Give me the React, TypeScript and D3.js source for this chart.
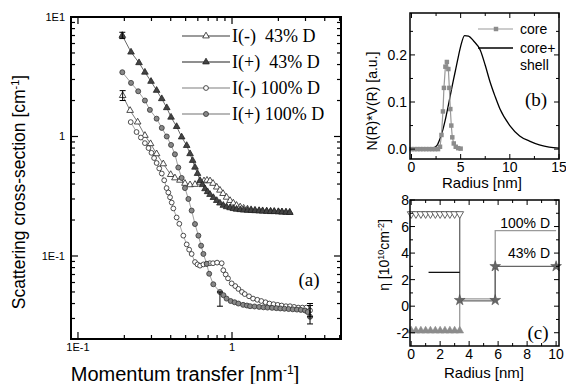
import React from 'react';
import * as d3 from 'd3';

// ---------- panel (a): scattering curves, q [nm^-1] vs I [cm^-1]
const qMinus43 = [0.195, 0.218, 0.244, 0.272, 0.296, 0.324, 0.358, 0.400, 0.426, 0.459, 0.495, 0.534, 0.575, 0.620, 0.658, 0.688, 0.720, 0.753, 0.796, 0.835, 0.875, 0.922, 0.971, 1.02, 1.07, 1.13, 1.19, 1.26, 1.33, 1.41, 1.50, 1.58, 1.68, 1.78, 1.88, 2.0, 2.11, 2.24, 2.37];
const iMinus43 = [2.2, 1.65, 1.32, 1.02, 0.87, 0.716, 0.59, 0.48, 0.45, 0.43, 0.405, 0.394, 0.397, 0.414, 0.425, 0.43, 0.425, 0.405, 0.377, 0.355, 0.333, 0.31, 0.291, 0.277, 0.265, 0.257, 0.251, 0.247, 0.244, 0.242, 0.240, 0.239, 0.238, 0.237, 0.236, 0.235, 0.234, 0.233, 0.232];

const qPlus43 = [0.194, 0.221, 0.249, 0.272, 0.298, 0.324, 0.350, 0.377, 0.402, 0.437, 0.471, 0.508, 0.534, 0.555, 0.575, 0.597, 0.620, 0.643, 0.668, 0.694, 0.720, 0.757, 0.796, 0.835, 0.878, 0.922, 0.971, 1.02, 1.07, 1.13, 1.19, 1.26, 1.33, 1.41, 1.50, 1.58, 1.68, 1.78, 1.88, 2.0, 2.11, 2.24, 2.37];
const iPlus43 = [7.0, 5.08, 4.14, 3.45, 2.89, 2.43, 2.07, 1.74, 1.45, 1.21, 0.99, 0.84, 0.717, 0.63, 0.553, 0.49, 0.428, 0.395, 0.365, 0.345, 0.327, 0.308, 0.291, 0.277, 0.265, 0.258, 0.253, 0.249, 0.246, 0.244, 0.242, 0.241, 0.240, 0.239, 0.238, 0.237, 0.236, 0.235, 0.235, 0.234, 0.233, 0.232, 0.231];

const qMinus100 = [0.220, 0.240, 0.256, 0.272, 0.287, 0.300, 0.312, 0.324, 0.337, 0.350, 0.363, 0.376, 0.386, 0.396, 0.406, 0.416, 0.437, 0.455, 0.483, 0.508, 0.527, 0.547, 0.575, 0.597, 0.620, 0.652, 0.685, 0.718, 0.753, 0.800, 0.857, 0.878, 0.910, 0.942, 0.995, 1.05, 1.10, 1.16, 1.21, 1.29, 1.37, 1.46, 1.55, 1.65, 1.75, 1.86, 1.98, 2.10, 2.24, 2.38, 2.53, 2.69, 2.86, 3.04, 3.21];
const iMinus100 = [1.32, 1.09, 0.98, 0.88, 0.80, 0.73, 0.66, 0.60, 0.54, 0.49, 0.43, 0.37, 0.34, 0.31, 0.28, 0.25, 0.21, 0.186, 0.148, 0.125, 0.113, 0.104, 0.089, 0.085, 0.083, 0.085, 0.086, 0.087, 0.087, 0.088, 0.087, 0.076, 0.070, 0.065, 0.059, 0.056, 0.053, 0.050, 0.048, 0.046, 0.044, 0.043, 0.042, 0.041, 0.040, 0.0395, 0.039, 0.0385, 0.038, 0.038, 0.0375, 0.037, 0.037, 0.037, 0.035];

const qPlus100 = [0.194, 0.221, 0.246, 0.272, 0.293, 0.324, 0.350, 0.377, 0.402, 0.426, 0.448, 0.471, 0.495, 0.521, 0.547, 0.575, 0.605, 0.630, 0.652, 0.685, 0.711, 0.756, 0.835, 0.880, 0.922, 0.980, 1.04, 1.10, 1.18, 1.25, 1.31, 1.40, 1.50, 1.60, 1.70, 1.82, 1.94, 2.06, 2.19, 2.33, 2.48, 2.64, 2.80, 2.98, 3.10, 3.21];
const iPlus100 = [3.45, 2.81, 2.39, 2.0, 1.67, 1.41, 1.18, 1.0, 0.85, 0.71, 0.55, 0.45, 0.37, 0.30, 0.24, 0.185, 0.148, 0.122, 0.104, 0.086, 0.071, 0.058, 0.050, 0.047, 0.044, 0.042, 0.041, 0.040, 0.039, 0.0385, 0.038, 0.0378, 0.0375, 0.0372, 0.037, 0.0368, 0.0366, 0.0364, 0.0362, 0.036, 0.0358, 0.0356, 0.0354, 0.035, 0.034, 0.031];

const legendLabels = ['I(-)  43% D', 'I(+)  43% D', 'I(-) 100% D', 'I(+) 100% D'];

// [series index, q, low, high]
const errorBars: [number, number, number, number][] = [
  [1, 0.194, 6.6, 7.45],
  [0, 0.195, 2.0, 2.42],
  [3, 0.835, 0.038, 0.05],
  [3, 3.21, 0.027, 0.0385],
  [2, 3.21, 0.031, 0.04],
];

// ---------- panel (b): size distributions
const coreR = [0, 0.3, 0.6, 0.9, 1.2, 1.5, 1.8, 2.1, 2.4, 2.7, 2.9, 3.05, 3.2, 3.3, 3.45, 3.6, 3.75, 3.85, 3.95, 4.05, 4.15, 4.3, 4.5, 4.75, 5.0];
const coreV = [0, 0, 0, 0, 0, 0, 0, 0, 0, 0, 0.005, 0.03, 0.08, 0.13, 0.175, 0.185, 0.17, 0.13, 0.085, 0.05, 0.025, 0.012, 0.005, 0.002, 0.001];
const shellR = [0, 1, 1.8, 2.2, 2.6, 2.9, 3.2, 3.5, 3.8, 4.1, 4.4, 4.7, 5.0, 5.4, 5.8, 6.3, 7.0, 7.5, 8.0, 8.5, 9.0, 10, 11, 12, 13, 14, 15];
const shellV = [0, 0, 0, 0.002, 0.008, 0.022, 0.042, 0.068, 0.098, 0.13, 0.16, 0.19, 0.218, 0.241, 0.24, 0.23, 0.21, 0.178, 0.142, 0.112, 0.085, 0.05, 0.028, 0.017, 0.009, 0.004, 0.002];

// ---------- panel (c): contrast profiles
const profR = [0, 3.35, 3.35, 5.8, 5.8, 10];
const prof43 = [6.95, 6.95, 0.4, 0.4, 3.0, 3.0];
const prof100 = [-1.85, -1.85, 0.55, 0.55, 5.7, 5.7];
const coreMarkR = [0, 0.33, 0.67, 1.0, 1.33, 1.67, 2.0, 2.33, 2.67, 3.0, 3.35];
const starR = [3.35, 5.8, 5.8, 10];
const starEta = [0.45, 0.45, 3.0, 3.0];
const avgR = [1.2, 3.35];
const avgEta = [2.55, 2.55];

const SANS = '"Liberation Sans", Arial, sans-serif';
const SERIF = '"Liberation Serif", "Times New Roman", serif';

type Pt = [number, number];
const zip = (a: number[], b: number[]): Pt[] => a.map((v, i) => [v, b[i]]);

const tri = d3.symbol(d3.symbolTriangle, 19)();
const triC = d3.symbol(d3.symbolTriangle, 26)();
const star = d3.symbol(d3.symbolStar, 36)();
const sq = d3.symbol(d3.symbolSquare, 20)();

const Marker = ({ kind, x, y }: { kind: string; x: number; y: number }) => {
  const t = `translate(${x},${y})`;
  if (kind === 'triOpen') return <path d={tri!} transform={t} fill="#fff" stroke="#222" strokeWidth={0.8} />;
  if (kind === 'triFill') return <path d={tri!} transform={t} fill="#444" stroke="#222" strokeWidth={0.8} />;
  if (kind === 'circOpen') return <circle cx={x} cy={y} r={2.4} fill="#fff" stroke="#222" strokeWidth={0.8} />;
  return <circle cx={x} cy={y} r={2.5} fill="#888" stroke="#333" strokeWidth={0.8} />;
};

const series = [
  { pts: zip(qMinus43, iMinus43), kind: 'triOpen', line: '#7a7a7a' },
  { pts: zip(qPlus43, iPlus43), kind: 'triFill', line: '#6a6a6a' },
  { pts: zip(qMinus100, iMinus100), kind: 'circOpen', line: '#a8a8a8' },
  { pts: zip(qPlus100, iPlus100), kind: 'circFill', line: '#a0a0a0' },
];

const PanelA = () => {
  const L = 71, R = 341, T = 17, B = 339;
  const x = d3.scaleLog().domain([0.0901, 5.1]).range([L, R]);
  const y = d3.scaleLog().domain([0.0202, 10]).range([B, T]);
  const line = d3.line<Pt>().x(d => x(d[0])).y(d => y(d[1]));
  const isMajor = (v: number) => Math.abs(Math.log10(v) - Math.round(Math.log10(v))) < 1e-6;
  const xt = x.ticks().filter(v => x(v) > L + 1 && x(v) < R - 1);
  const yt = y.ticks().filter(v => (y(v) > T + 1 && y(v) < B - 1) || v === 10);
  const fmt = (v: number) => (v === 1 ? '1' : v === 10 ? '1E1' : '1E-1');
  return (
    <g>
      {series.map((s, i) => (
        <path key={'l' + i} d={line(s.pts)!} fill="none" stroke={s.line} strokeWidth={1} />
      ))}
      {series.map((s, i) => (
        <g key={'m' + i}>
          {s.pts.map((p, j) => <Marker key={j} kind={s.kind} x={x(p[0])} y={y(p[1])} />)}
        </g>
      ))}
      {errorBars.map(([, q, lo, hi], i) => (
        <g key={'e' + i} stroke="#000" strokeWidth={1}>
          <line x1={x(q)} x2={x(q)} y1={y(lo)} y2={y(hi)} />
          <line x1={x(q) - 3} x2={x(q) + 3} y1={y(lo)} y2={y(lo)} />
          <line x1={x(q) - 3} x2={x(q) + 3} y1={y(hi)} y2={y(hi)} />
        </g>
      ))}
      {/* frame and ticks */}
      <rect x={L} y={T} width={R - L} height={B - T} fill="none" stroke="#000" strokeWidth={2} />
      {xt.map((v, i) => {
        const len = isMajor(v) ? 7 : 4;
        return (
          <g key={'xt' + i} stroke="#000" strokeWidth={1.2}>
            <line x1={x(v)} x2={x(v)} y1={B} y2={B - len} />
            <line x1={x(v)} x2={x(v)} y1={T} y2={T + len} />
          </g>
        );
      })}
      {yt.map((v, i) => {
        const len = isMajor(v) ? 7 : 4;
        return (
          <g key={'yt' + i} stroke="#000" strokeWidth={1.2}>
            <line x1={L} x2={L + len} y1={y(v)} y2={y(v)} />
            <line x1={R} x2={R - len} y1={y(v)} y2={y(v)} />
          </g>
        );
      })}
      {xt.filter(isMajor).map((v, i) => (
        <text key={'xl' + i} x={x(v)} y={B + 12} fontSize={11} fontFamily={SANS} textAnchor="middle">{fmt(v)}</text>
      ))}
      {yt.filter(isMajor).map((v, i) => (
        <text key={'yl' + i} x={L - 6} y={y(v) + 4} fontSize={11} fontFamily={SANS} textAnchor="end">{fmt(v)}</text>
      ))}
      <text x={185} y={381} fontSize={20} fontFamily={SANS} textAnchor="middle">
        Momentum transfer [nm<tspan dy={-7} fontSize={12}>-1</tspan><tspan dy={7}>]</tspan>
      </text>
      <text transform="translate(25,192) rotate(-90)" fontSize={17.5} fontFamily={SANS} textAnchor="middle">
        Scattering cross-section [cm<tspan dy={-6} fontSize={11}>-1</tspan><tspan dy={6}>]</tspan>
      </text>
      {/* legend */}
      {series.map((s, i) => {
        const ly = 36 + i * 26;
        return (
          <g key={'lg' + i}>
            <line x1={182} x2={230} y1={ly} y2={ly} stroke={s.line} strokeWidth={1.3} />
            <Marker kind={s.kind} x={206} y={ly} />
            <text x={232} y={ly + 6} fontSize={18} fontFamily={SERIF} style={{ whiteSpace: 'pre' }}>{legendLabels[i]}</text>
          </g>
        );
      })}
      <text x={309} y={286} fontSize={19} fontFamily={SERIF} textAnchor="middle">(a)</text>
    </g>
  );
};

const Frame = ({ L, R, T, B, xs, ys }: any) => (
  <g>
    <rect x={L} y={T} width={R - L} height={B - T} fill="none" stroke="#000" strokeWidth={1.5} />
    {xs.map(([v, len]: [number, number], i: number) => (
      <g key={'x' + i} stroke="#000" strokeWidth={1}>
        <line x1={v} x2={v} y1={B} y2={B - len} />
        <line x1={v} x2={v} y1={T} y2={T + len} />
      </g>
    ))}
    {ys.map(([v, len]: [number, number], i: number) => (
      <g key={'y' + i} stroke="#000" strokeWidth={1}>
        <line x1={L} x2={L + len} y1={v} y2={v} />
        <line x1={R} x2={R - len} y1={v} y2={v} />
      </g>
    ))}
  </g>
);

const PanelB = () => {
  const L = 410, R = 559, T = 13, B = 159;
  const x = d3.scaleLinear().domain([-0.15, 15]).range([L, R]);
  const y = d3.scaleLinear().domain([-0.021, 0.289]).range([B, T]);
  const line = d3.line<Pt>().x(d => x(d[0])).y(d => y(d[1]));
  const smooth = d3.line<Pt>().x(d => x(d[0])).y(d => y(d[1])).curve(d3.curveMonotoneX);
  const xMaj = [0, 5, 10, 15];
  const xMin = [2.5, 7.5, 12.5];
  const yMaj = [0, 0.1, 0.2];
  const yMin = [0.05, 0.15, 0.25];
  return (
    <g>
      <path d={smooth(zip(shellR, shellV))!} fill="none" stroke="#000" strokeWidth={1.3} />
      <path d={line(zip(coreR, coreV))!} fill="none" stroke="#999" strokeWidth={1.2} />
      {coreR.map((r, i) => (
        <path key={i} d={sq!} transform={`translate(${x(r)},${y(coreV[i])})`} fill="#8c8c8c" />
      ))}
      <Frame L={L} R={R} T={T} B={B}
        xs={[...xMaj.map(v => [x(v), 5]), ...xMin.map(v => [x(v), 3])]}
        ys={[...yMaj.map(v => [y(v), 5]), ...yMin.map(v => [y(v), 3])]} />
      {xMaj.map(v => (
        <text key={v} x={x(v)} y={B + 13} fontSize={14} fontFamily={SANS} textAnchor="middle">{v}</text>
      ))}
      {yMaj.map(v => (
        <text key={v} x={L - 3} y={y(v) + 5} fontSize={14} fontFamily={SANS} textAnchor="end">{v.toFixed(1)}</text>
      ))}
      <text x={482} y={188} fontSize={15} fontFamily={SANS} textAnchor="middle">Radius [nm]</text>
      <text transform="translate(377,101) rotate(-90)" fontSize={14} fontFamily={SANS} textAnchor="middle">N(R)*V(R) [a.u.]</text>
      <line x1={478} x2={513} y1={29} y2={29} stroke="#999" strokeWidth={1.2} />
      <path d={sq!} transform="translate(496,29)" fill="#8c8c8c" />
      <text x={520} y={34} fontSize={14} fontFamily={SANS}>core</text>
      <line x1={478} x2={513} y1={48} y2={48} stroke="#000" strokeWidth={1.3} />
      <text x={520} y={53} fontSize={14} fontFamily={SANS}>core+</text>
      <text x={520} y={70} fontSize={14} fontFamily={SANS}>shell</text>
      <text x={536} y={106} fontSize={19} fontFamily={SERIF} textAnchor="middle">(b)</text>
    </g>
  );
};

const PanelC = () => {
  const L = 410, R = 559, T = 200, B = 346;
  const x = d3.scaleLinear().domain([-0.08, 10.2]).range([L, R]);
  const y = d3.scaleLinear().domain([-3, 8]).range([B, T]);
  const line = d3.line<Pt>().x(d => x(d[0])).y(d => y(d[1]));
  const xMaj = [0, 2, 4, 6, 8, 10];
  const xMin = [1, 3, 5, 7, 9];
  const yMaj = [-2, 0, 2, 4, 6, 8];
  const yMin = [-1, 1, 3, 5, 7];
  return (
    <g>
      <path d={line(zip(profR, prof100))!} fill="none" stroke="#9a9a9a" strokeWidth={1.3} />
      <path d={line(zip(profR, prof43))!} fill="none" stroke="#666" strokeWidth={1.3} />
      <path d={line(zip(avgR, avgEta))!} fill="none" stroke="#000" strokeWidth={1.2} />
      {coreMarkR.map((r, i) => (
        <path key={'u' + i} d={triC!} transform={`translate(${x(r)},${y(prof100[0])})`} fill="#8c8c8c" stroke="#8c8c8c" strokeWidth={0.6} />
      ))}
      {coreMarkR.map((r, i) => (
        <path key={'d' + i} d={triC!} transform={`translate(${x(r)},${y(prof43[0])}) rotate(180)`} fill="#fff" stroke="#555" strokeWidth={0.9} />
      ))}
      {starR.map((r, i) => (
        <path key={'s' + i} d={star!} transform={`translate(${x(r)},${y(starEta[i])})`} fill="#666" stroke="#444" strokeWidth={0.5} />
      ))}
      <Frame L={L} R={R} T={T} B={B}
        xs={[...xMaj.map(v => [x(v), 5]), ...xMin.map(v => [x(v), 3])]}
        ys={[...yMaj.map(v => [y(v), 5]), ...yMin.map(v => [y(v), 3])]} />
      {xMaj.map(v => (
        <text key={v} x={x(v)} y={B + 13} fontSize={14} fontFamily={SANS} textAnchor="middle">{v}</text>
      ))}
      {yMaj.map(v => (
        <text key={v} x={L - 1} y={y(v) + 5} fontSize={14} fontFamily={SANS} textAnchor="end">{v}</text>
      ))}
      <text x={484} y={378} fontSize={15} fontFamily={SANS} textAnchor="middle">Radius [nm]</text>
      <text transform="translate(389,255) rotate(-90)" fontSize={14} fontFamily={SANS} textAnchor="middle">
        η [10<tspan dy={-5} fontSize={9}>10</tspan><tspan dy={5}>cm</tspan><tspan dy={-5} fontSize={9}>-2</tspan><tspan dy={5}>]</tspan>
      </text>
      <text x={550} y={228} fontSize={14} fontFamily={SANS} textAnchor="end">100% D</text>
      <text x={550} y={258} fontSize={14} fontFamily={SANS} textAnchor="end">43% D</text>
      <text x={538} y={339} fontSize={19} fontFamily={SERIF} textAnchor="middle">(c)</text>
    </g>
  );
};

export default function App() {
  return (
    <svg width={566} height={384} style={{ position: 'absolute', left: 0, top: 0, background: '#fff' }}>
      <PanelA />
      <PanelB />
      <PanelC />
    </svg>
  );
}
